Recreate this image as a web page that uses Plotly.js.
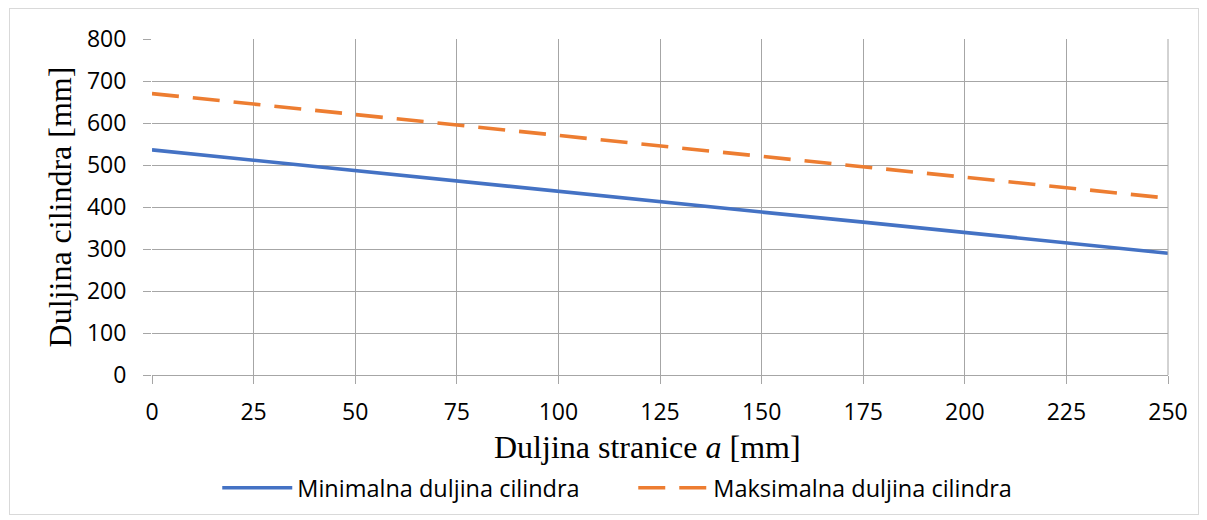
<!DOCTYPE html>
<html><head><meta charset="utf-8">
<script src="https://cdn.plot.ly/plotly-3.0.1.min.js"></script>
<style>
html,body{margin:0;padding:0;background:#fff;}
#wrap{position:relative;width:1207px;height:520px;}
#frame{position:absolute;left:9px;top:8px;width:1188px;height:505px;border:1px solid #d9d9d9;}
#chart{position:absolute;left:0;top:0;width:1207px;height:520px;}
</style></head>
<body><div id="wrap"><div id="frame"></div><div id="chart"></div></div>
<script>
const stranica = [0, 25, 50, 75, 100, 125, 150, 175, 200, 225, 250];
const minDuljina = [536, 511, 487, 462, 437, 413, 388, 364, 339, 315, 290];
const maxDuljina = [670, 645, 620, 595, 570, 546, 521, 496, 471, 446, 421];
const seriesNames = ['Minimalna duljina cilindra', 'Maksimalna duljina cilindra'];
const xTitle = 'Duljina stranice <i>a</i> [mm]';
const yTitle = 'Duljina cilindra [mm]';

const tickFont = {family: 'Open Sans, Liberation Sans, sans-serif', size: 23, color: '#000'};
const titleFont = {family: 'Liberation Serif, Times New Roman, serif', size: 32, color: '#000'};
const traces = [
  {x: stranica, y: minDuljina, name: seriesNames[0], mode: 'lines', type: 'scatter',
   line: {color: '#4472C4', width: 3.6}},
  {x: stranica, y: maxDuljina, name: seriesNames[1], mode: 'lines', type: 'scatter',
   line: {color: '#ED7D31', width: 3.6, dash: '27px,14px'}}
];
const layout = {
  width: 1207, height: 520,
  margin: {l: 152, r: 39, t: 39, b: 145, autoexpand: false},
  paper_bgcolor: 'rgba(0,0,0,0)', plot_bgcolor: 'rgba(0,0,0,0)',
  showlegend: true,
  legend: {orientation: 'h', xref: 'container', yref: 'container',
           x: 0.18, xanchor: 'left', y: 0.0615, yanchor: 'middle',
           font: {family: 'Open Sans, sans-serif', size: 23.5, color: '#000'},
           itemwidth: 70, entrywidth: 331, traceorder: 'normal'},
  xaxis: {range: [0, 250], tickvals: stranica, ticktext: stranica.map(String),
          showgrid: true, gridcolor: '#a6a6a6', gridwidth: 1,
          showline: true, linecolor: '#a6a6a6', linewidth: 1, mirror: false,
          ticks: 'outside', ticklen: 8, tickcolor: '#a6a6a6', ticklabelstandoff: 8,
          tickfont: tickFont, zeroline: false, automargin: false},
  yaxis: {range: [0, 800], dtick: 100,
          showgrid: true, gridcolor: '#a6a6a6', gridwidth: 1,
          showline: false, ticks: 'outside', ticklen: 8, tickcolor: '#a6a6a6', ticklabelstandoff: 12,
          tickfont: tickFont, zeroline: false, automargin: false,
          title: {text: yTitle, standoff: 5, font: titleFont}},
  annotations: [
    {text: xTitle, xref: 'paper', yref: 'paper', x: (647 - 152) / 1016, y: -(447 - 375) / 336,
     xanchor: 'center', yanchor: 'middle', showarrow: false, font: titleFont}
  ],
  shapes: [
    {type: 'line', xref: 'paper', yref: 'paper', x0: 1, x1: 1, y0: 0, y1: 1, line: {color: '#a6a6a6', width: 1}}
  ]
};
Plotly.newPlot('chart', traces, layout, {displayModeBar: false, staticPlot: true});
</script></body></html>
